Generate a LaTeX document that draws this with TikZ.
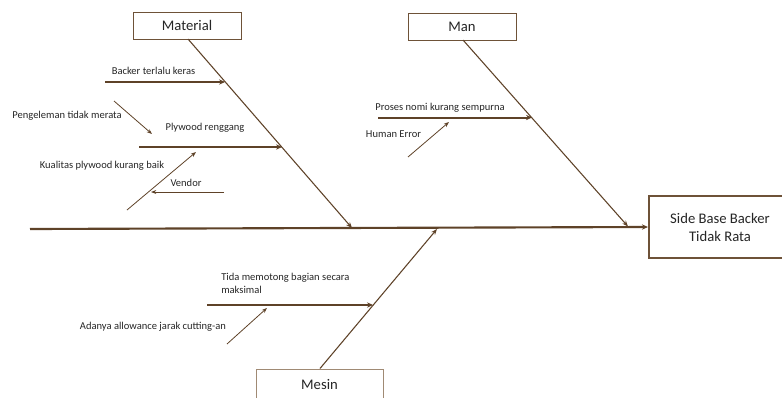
\documentclass[tikz,border=0pt]{standalone}
\usepackage{fontspec}
\setmainfont{Carlito}
\usetikzlibrary{arrows.meta}
\definecolor{bone}{HTML}{5E4228}
\definecolor{boxline}{HTML}{6E5238}
\definecolor{boxlight}{HTML}{A08A74}
\definecolor{txt}{HTML}{262626}
\begin{document}
\begin{tikzpicture}[x=0.75pt,y=-0.75pt,
  catbox/.style={draw=boxline,line width=0.7pt,fill=white,minimum width=81pt,minimum height=20.25pt,inner sep=0pt,font=\fontsize{11}{13}\selectfont,text=txt},
  effbox/.style={draw=boxline,line width=1.6pt,fill=white,minimum width=106.5pt,minimum height=46.5pt,inner sep=0pt,align=center,font=\fontsize{11}{13.5}\selectfont,text=txt},
  lbl/.style={inner sep=0pt,font=\fontsize{7.9}{9.75}\selectfont,text=txt},
  spine/.style={draw=bone,line width=1.6pt,-{Stealth[length=4.5pt,width=4pt]}},
  diag/.style={draw=bone,line width=0.8pt,-{Stealth[length=4.5pt,width=3.5pt]}},
  sub/.style={draw=bone,line width=1.5pt,-{Stealth[length=4.5pt,width=4pt]}},
  small/.style={draw=bone,line width=0.6pt,-{Stealth[length=4pt,width=3pt]}}
]
\useasboundingbox (0,0) rectangle (782,397);
% category boxes
\node[catbox] (mat) at (187,25.5) {Material};
\node[catbox] (man) at (462,26.5) {Man};
\node[catbox,draw=boxlight,minimum width=95.25pt,minimum height=23.25pt] (mes) at (319.5,384.5) {Mesin};
\node[effbox] (eff) at (720,227) {Side Base Backer\\Tidak Rata};
% spine
\coordinate (tail) at (30,229);
\draw[spine] (tail) -- (eff.west);
% diagonal bones
\coordinate (matS) at (188,39);
\coordinate (matE) at (352,228);
\coordinate (manS) at (463,40);
\coordinate (manE) at (628,226.5);
\coordinate (mesS) at (320,368.5);
\coordinate (mesE) at (437,229);
\draw[diag] (matS) -- (matE);
\draw[diag] (manS) -- (manE);
\draw[diag] (mesS) -- (mesE);
% sub bones
\coordinate (b1s) at (105,82);
\coordinate (b1e) at (225,82);
\coordinate (b2s) at (139,147);
\coordinate (b2e) at (282,147);
\coordinate (b3s) at (378,117.5);
\coordinate (b3e) at (532,117.5);
\coordinate (b4s) at (207,305);
\coordinate (b4e) at (373,305);
\draw[sub] (b1s) -- (b1e);
\draw[sub] (b2s) -- (b2e);
\draw[sub] (b3s) -- (b3e);
\draw[sub] (b4s) -- (b4e);
% small arrows
\coordinate (p1s) at (114,101);
\coordinate (p1e) at (152,134);
\coordinate (k1s) at (127,210);
\coordinate (k1e) at (196,152);
\coordinate (v1s) at (224,192);
\coordinate (v1e) at (151,192);
\coordinate (h1s) at (408,157);
\coordinate (h1e) at (449,122);
\coordinate (a1s) at (227,344);
\coordinate (a1e) at (267,308);
\draw[small] (p1s) -- (p1e);
\draw[small] (k1s) -- (k1e);
\draw[small] (v1s) -- (v1e);
\draw[small] (h1s) -- (h1e);
\draw[small] (a1s) -- (a1e);
% labels
\node[lbl] (t1) at (153.5,71) {Backer terlalu keras};
\node[lbl] (t2) at (67,116) {Pengeleman tidak merata};
\node[lbl] (t3) at (205,127.5) {Plywood renggang};
\node[lbl] (t4) at (102,166) {Kualitas plywood kurang baik};
\node[lbl] (t5) at (186,183) {Vendor};
\node[lbl] (t6) at (440,108) {Proses nomi kurang sempurna};
\node[lbl] (t7) at (393.5,134.5) {Human Error};
\node[lbl,anchor=north west,align=left] (t8) at (221,273) {Tida memotong bagian secara\\maksimal};
\node[lbl] (t9) at (153,327) {Adanya allowance jarak cutting-an};
\end{tikzpicture}
\end{document}
